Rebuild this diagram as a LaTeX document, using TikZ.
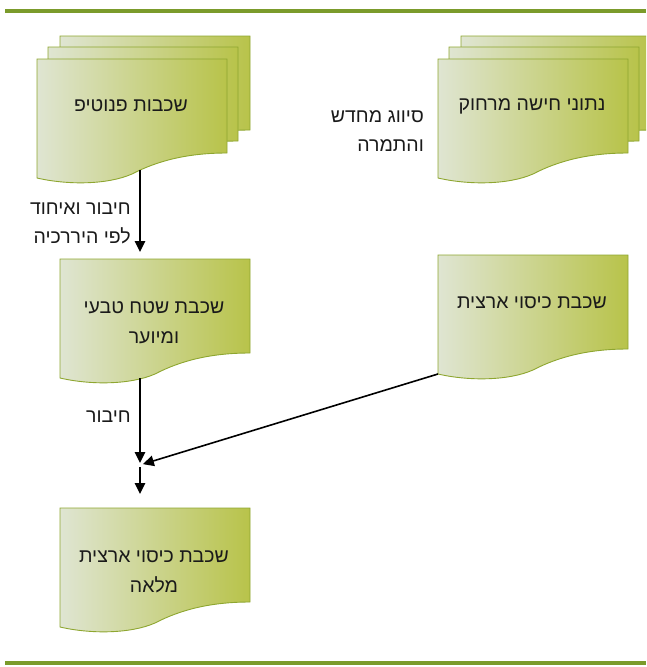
\documentclass[tikz,border=0pt]{standalone}
\usepackage{fontspec}
\usetikzlibrary{arrows.meta}
\TeXXeTstate=1
\newfontfamily\hebfont[Script=Hebrew]{Liberation Sans}
\definecolor{ruleclr}{HTML}{7B9B2B}
\definecolor{docL}{HTML}{DFE5D2}
\definecolor{docR}{HTML}{B8C34A}
\definecolor{docedge}{HTML}{8EA630}
\definecolor{inkclr}{HTML}{1A1A1A}
\tikzset{
  rulebar/.style={draw=ruleclr, line width=4pt},
  docbody/.style={left color=docL, right color=docR, draw=docedge, line width=0.9pt},
  doctext/.style={font=\hebfont\fontsize{19.5}{30}\selectfont, text=inkclr, align=center, inner sep=0pt},
  edgelabel/.style={font=\hebfont\fontsize{19.5}{29}\selectfont, text=inkclr, align=right, inner sep=0pt, anchor=east},
  flow/.style={draw=black, line width=1.6pt, -{Triangle[length=11pt,width=10.5pt]}},
}
% document sheet with a wavy lower edge; #1 name, (#2,#3) top-left corner
\newcommand\docsheet[3]{%
  \begin{scope}[shift={(#2,#3)}]
    \path[docbody] (0,0) -- (190,0) -- (190,94)
      .. controls (150,94) and (120,102) .. (95,115)
      .. controls (70,126) and (30,126) .. (0,119) -- cycle;
    \coordinate (#1-in) at (80,0);
    \coordinate (#1-out) at (80,119);
    \coordinate (#1-bl) at (0,119);
  \end{scope}}
\begin{document}
\begin{tikzpicture}[x=1pt,y=-1pt]
  \useasboundingbox (0,0) rectangle (646,667);
  \begin{scope}
    \clip (0,0) rectangle (646,667);

    % horizontal rules
    \draw[rulebar] (5,11) -- (646,11);
    \draw[rulebar] (5,663) -- (646,663);

    % stacked sheets: phenotype layers
    \docsheet{phenC}{60}{36}
    \docsheet{phenB}{48}{47}
    \docsheet{phen}{37}{59}
    \node[doctext] (phentext) at (131,106) {\beginR שכבות פנוטיפ\endR};

    % stacked sheets: remote sensing data
    \docsheet{rsC}{461}{36}
    \docsheet{rsB}{449}{47}
    \docsheet{rs}{438}{59}
    \node[doctext] (rstext) at (532,106) {\beginR נתוני חישה מרחוק\endR};

    \node[edgelabel] (reclass) at (424,131)
      {\beginR סיווג מחדש\endR\\\beginR והתמרה\endR};

    % natural / forest area layer
    \docsheet{nat}{60}{259}
    \node[doctext] (nattext) at (154,323)
      {\beginR שכבת שטח טבעי\endR\\\beginR ומיוער\endR};

    % national land cover layer
    \docsheet{lc}{438}{255}
    \node[doctext] (lctext) at (532,303) {\beginR שכבת כיסוי ארצית\endR};

    % complete national land cover layer
    \docsheet{full}{60}{508}
    \node[doctext] (fulltext) at (154,572)
      {\beginR שכבת כיסוי ארצית\endR\\\beginR מלאה\endR};

    % connectors
    \coordinate (phen-out) at (140,170);
    \coordinate (join) at (140,465);
    \draw[flow, shorten >=7pt] (phen-out) -- (nat-in);
    \node[edgelabel] (agglabel) at (131,223)
      {\beginR חיבור ואיחוד\endR\\\beginR לפי היררכיה\endR};
    \draw[flow, shorten >=2pt] (nat-out) -- (join);
    \node[edgelabel] (joinlabel) at (131,417) {\beginR חיבור\endR};
    \draw[flow, shorten >=3pt] (lc-bl) -- (join);
    \draw[flow, shorten <=2pt, shorten >=14pt] (join) -- (full-in);
  \end{scope}
\end{tikzpicture}
\end{document}
